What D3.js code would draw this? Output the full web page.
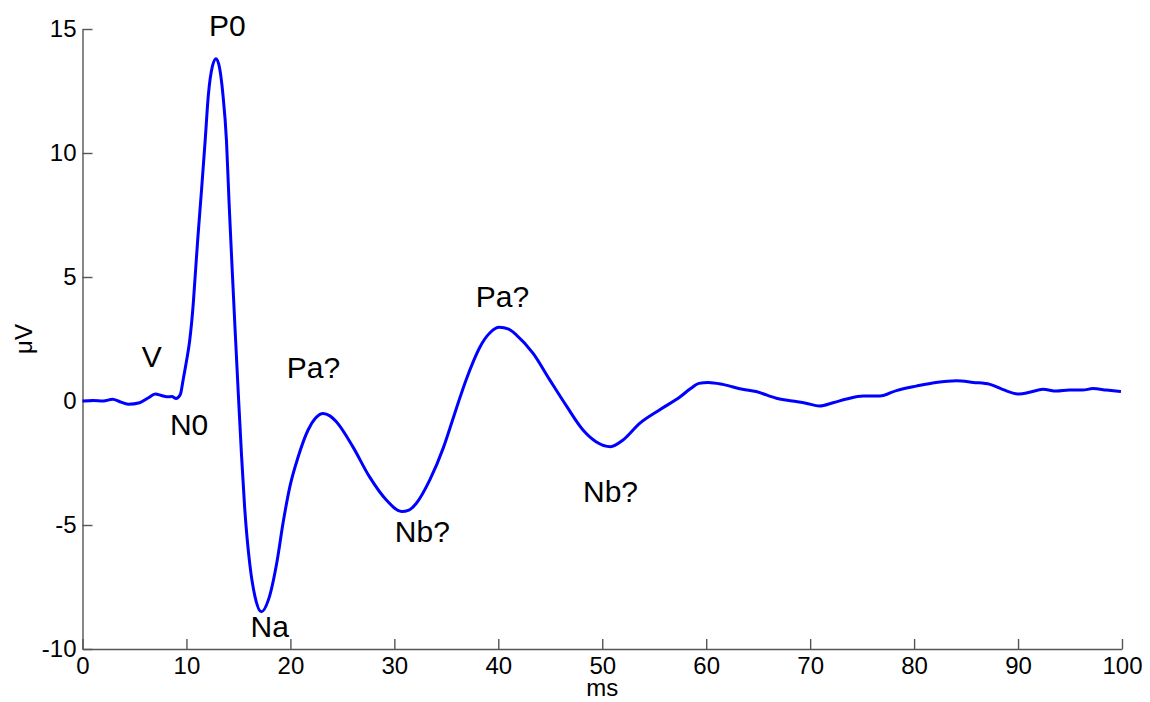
<!DOCTYPE html>
<html>
<head>
<meta charset="utf-8">
<script src="https://d3js.org/d3.v7.min.js"></script>
<style>
  body { margin: 0; background: #fff; }
  svg { font-family: "Liberation Sans", Arial, sans-serif; }
  .axis path, .axis line { stroke: #555; stroke-width: 1.4; }
  .axis text { font-size: 24px; fill: #000; }
  .peak { font-size: 30px; fill: #000; }
</style>
</head>
<body>
<svg id="chart" width="1150" height="702"></svg>
<script>
// time (ms) and amplitude (uV)
var times = [0, 1, 2, 2.9, 3.6, 4.4, 5.5, 6.3, 7.0, 7.6, 8.1, 8.6, 9.0, 9.4, 9.7, 10.0,
  10.3, 10.65, 10.85, 11.1, 11.45, 11.8, 12.1, 12.5, 12.85, 13.2, 13.5, 13.85, 14.1, 14.4,
  14.7, 15.0, 15.3, 15.6, 16.1, 16.6, 17.2, 17.9, 18.7, 19.3, 19.95, 20.75, 21.7, 22.4,
  23.15, 23.8, 24.4, 26.0, 27.6, 29.25, 30.7, 31.4, 32.1, 33.4, 34.7, 35.5, 36.2, 36.9,
  37.6, 38.2, 39.2, 40.1, 41.0, 41.75, 43.35, 44.95, 46.6, 48.15, 49.4, 50.8, 52.0, 53.6, 55.5,
  57.5, 58.5, 59.3, 60.2, 61.6, 63.5, 64.8, 66.75, 68.3, 69.6, 70.9, 72.2, 73.5, 75.1,
  76.7, 78.3, 80.2, 82.1, 84.1, 85.7, 87.3, 88.5, 90.1, 91.1, 92.4, 93.7, 94.95, 96.2,
  97.2, 98.5, 99.9];
var volts = [0.0, 0.02, 0.0, 0.07, -0.03, -0.13, -0.07, 0.12, 0.28, 0.22, 0.17, 0.18, 0.1, 0.25, 0.9, 1.6,
  2.4, 3.9, 5.1, 6.6, 8.5, 10.5, 12.3, 13.5, 13.8, 13.4, 12.4, 10.5, 8.0, 5.3,
  2.7, 0.2, -2.2, -4.3, -6.6, -7.9, -8.5, -8.0, -6.5, -4.9, -3.45, -2.25, -1.17, -0.7,
  -0.5, -0.6, -0.83, -1.84, -3.05, -4.0, -4.46, -4.4, -4.13, -3.19, -1.9, -0.9, 0.0, 0.85,
  1.6, 2.15, 2.75, 2.97, 2.9, 2.66, 1.92, 0.85, -0.23, -1.17, -1.64, -1.84, -1.57, -0.9, -0.36,
  0.17, 0.5, 0.71, 0.75, 0.67, 0.47, 0.38, 0.11, 0.0, -0.09, -0.2, -0.07, 0.08, 0.2,
  0.2, 0.42, 0.6, 0.75, 0.82, 0.75, 0.67, 0.47, 0.28, 0.35, 0.47, 0.4, 0.44, 0.44,
  0.5, 0.44, 0.38];

var xTicks = [0, 10, 20, 30, 40, 50, 60, 70, 80, 90, 100];
var yTicks = [-10, -5, 0, 5, 10, 15];

// peak labels: name, ms, uV (baseline-left of text)
var peakNames = ["V", "N0", "P0", "Na", "Pa?", "Nb?", "Pa?", "Nb?"];
var peakT     = [5.69, 8.41, 12.16, 16.17, 19.66, 30.05, 37.84, 48.15];
var peakV     = [1.37, -1.37, 14.72, -9.52, 0.93, -5.69, 3.79, -4.07];

var svg = d3.select("#chart");

var x = d3.scaleLinear().domain([0, 100]).range([82.5, 1122]);
var y = d3.scaleLinear().domain([-10, 15]).range([649, 29]);

var xAxis = d3.axisBottom(x).tickValues(xTicks).tickFormat(String)
  .tickSize(-10).tickPadding(16).tickSizeOuter(0);
var yAxis = d3.axisLeft(y).tickValues(yTicks).tickFormat(String)
  .tickSize(-10).tickPadding(16).tickSizeOuter(0);

svg.append("g")
  .attr("class", "x axis")
  .attr("transform", "translate(0," + y(-10) + ")")
  .call(xAxis);

svg.append("g")
  .attr("class", "y axis")
  .attr("transform", "translate(" + x(0) + ",0)")
  .call(yAxis);

svg.selectAll(".x.axis text").attr("dy", "0.71em").attr("y", 8);
svg.selectAll(".y.axis text").attr("x", -6);

var pts = times.map(function(t, i) { return [t, volts[i]]; });

var line = d3.line()
  .x(function(d) { return x(d[0]); })
  .y(function(d) { return y(d[1]); })
  .curve(d3.curveMonotoneX);

svg.append("path")
  .datum(pts)
  .attr("d", line)
  .attr("fill", "none")
  .attr("stroke", "#0000ff")
  .attr("stroke-width", 3)
  .attr("stroke-linejoin", "round");

svg.selectAll(".peak")
  .data(peakNames)
  .enter().append("text")
  .attr("class", "peak")
  .attr("x", function(d, i) { return x(peakT[i]); })
  .attr("y", function(d, i) { return y(peakV[i]); })
  .text(function(d) { return d; });

svg.append("text")
  .attr("x", (x(0) + x(100)) / 2)
  .attr("y", 696)
  .attr("text-anchor", "middle")
  .style("font-size", "24px")
  .text("ms");

svg.append("text")
  .attr("transform", "translate(32," + (y(-10) + y(15)) / 2 + ") rotate(-90)")
  .attr("text-anchor", "middle")
  .style("font-size", "24px")
  .text("μV");
</script>
</body>
</html>
